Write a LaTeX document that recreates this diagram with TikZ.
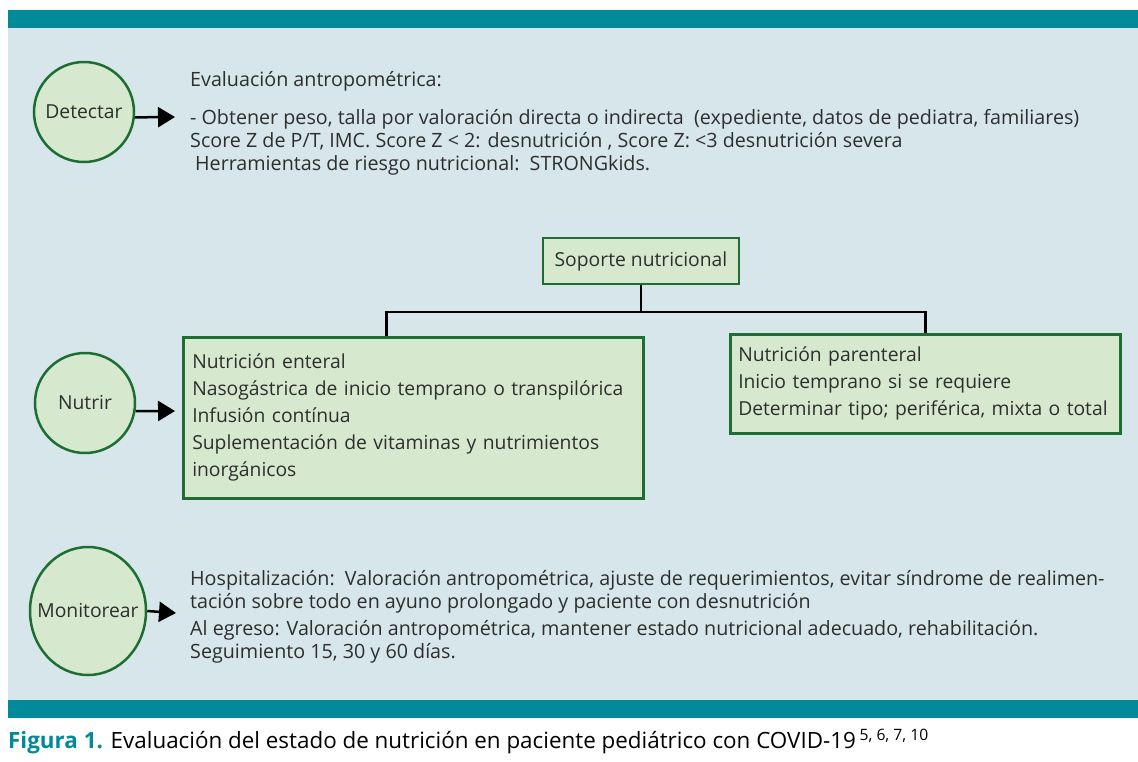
\documentclass[tikz,border=0pt]{standalone}
\usepackage{fontspec}
\setmainfont{Open Sans}
\usetikzlibrary{arrows.meta,shapes.geometric}
\definecolor{panelblue}{HTML}{D7E6EA}
\definecolor{bandteal}{HTML}{008A9A}
\definecolor{leafgreen}{HTML}{D6E9CF}
\definecolor{darkgreen}{HTML}{1E6E34}
\definecolor{inkgrey}{HTML}{2E2E2E}
\tikzset{
	stage/.style={circle, draw=darkgreen, fill=leafgreen, line width=2.5pt, minimum size=100pt, inner sep=0pt, text=inkgrey, font=\fontsize{19.3}{23}\selectfont},
	greenbox/.style={rectangle, draw=darkgreen, fill=leafgreen, line width=2.5pt, text=inkgrey, align=left, anchor=north west, inner ysep=0pt, font=\fontsize{19.3}{27}\selectfont},
	bodytext/.style={text=inkgrey, align=left, anchor=base west, inner sep=0pt, font=\fontsize{19.7}{23}\selectfont},
	pointer/.style={line width=2.5pt, -{Triangle[length=17pt,width=20pt]}},
	branch/.style={line width=2.5pt}
}

\begin{document}
\begin{tikzpicture}[x=1pt,y=-1pt]
			%%%%% START %%%%%
			\useasboundingbox (0,0) rectangle (1138,761);
			
			\fill[panelblue] (8,10) rectangle (1138,718);
			\fill[bandteal] (8,10) rectangle (1138,28);
			\fill[bandteal] (8,700) rectangle (1138,718);
			
			% detectar
			\node[stage] (det) at (84,112) {Detectar};
			\coordinate (dettip) at (175,117);
			\draw[pointer] (det.354) -- (dettip);
			\node[bodytext] (evaltitle) at (190,86) {Evaluación antropométrica:};
			\node[bodytext] (evaltext) at (190,170) {- Obtener peso, talla por valoración directa o indirecta\ \ (expediente, datos de pediatra, familiares)\\
				Score Z de P/T, IMC. Score Z < 2: desnutrición , Score Z: <3 desnutrición severa\\
				\hspace{5pt}Herramientas de riesgo nutricional:\ \ STRONGkids.};
			
			% nutrir
			\node[greenbox, anchor=center, align=center, minimum width=196pt, minimum height=46pt] (soporte) at (641,261) {Soporte nutricional};
			\node[stage] (nut) at (85,403) {Nutrir};
			\node[greenbox, text width=442pt, inner xsep=9pt, minimum height=161pt] (enteral) at (182,336) {Nutrición enteral\\
				Nasogástrica de inicio temprano o transpilórica\\
				Infusión contínua\\
				Suplementación de vitaminas y nutrimientos\\
				inorgánicos};
			\node[greenbox, text width=374pt, inner xsep=8pt, minimum height=99pt] (parenteral) at (729,333) {Nutrición parenteral\\
				Inicio temprano si se requiere\\
				Determinar tipo; periférica, mixta o total};
			\coordinate (split) at (641,312);
			\coordinate (nuttip) at (175,411);
			\draw[pointer] (nut.351) -- (nuttip);
			\draw[branch] (soporte.south) -- (split);
			\draw[branch] (split) -| (parenteral.north);
			\draw[branch] (split) -| ([xshift=-27pt]enteral.north);
			
			% monitorear
			\node[stage, ellipse, minimum width=116pt, minimum height=128pt, inner xsep=-14pt] (mon) at (88,611) {Monitorear};
			\coordinate (montip) at (176,613);
			\draw[pointer] (mon.east) -- (montip);
			\node[bodytext] (montext) at (190,658) {Hospitalización:\ \ Valoración antropométrica, ajuste de requerimientos, evitar síndrome de realimen-\\
				tación sobre todo en ayuno prolongado y paciente con desnutrición\\[4pt]
				Al egreso: Valoración antropométrica, mantener estado nutricional adecuado, rehabilitación.\\
				Seguimiento 15, 30 y 60 días.};
			
			% pie
			\node[anchor=base west, inner sep=0pt, font=\fontsize{22.4}{26}\selectfont] (caption) at (8,748) {\textcolor{bandteal}{\textbf{Figura 1.}} Evaluación del estado de nutrición en paciente pediátrico con COVID-19\,\textsuperscript{5, 6, 7, 10}};
			
			%%%%% END %%%%%
\end{tikzpicture}
\end{document}
